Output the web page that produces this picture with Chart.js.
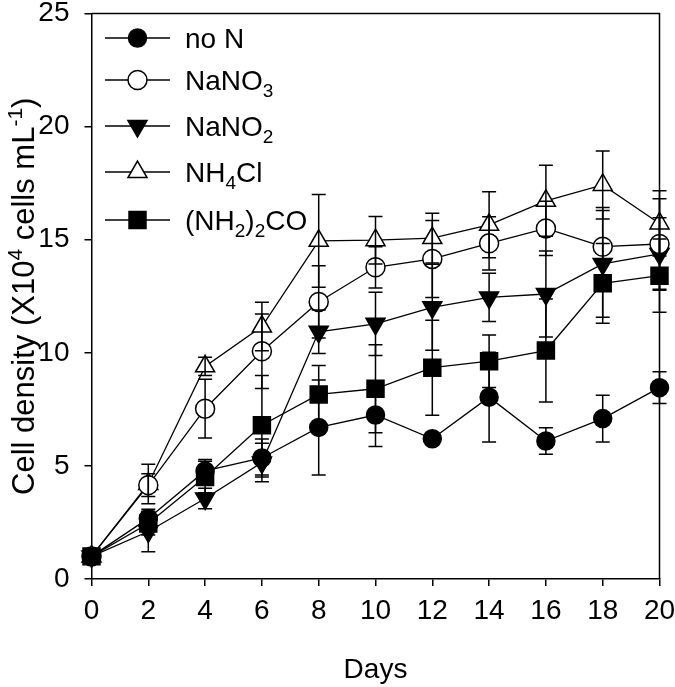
<!DOCTYPE html>
<html><head><meta charset="utf-8">
<script src="https://cdn.jsdelivr.net/npm/chart.js@4/dist/chart.umd.min.js"></script>
<style>html,body{margin:0;padding:0;background:#fff;}#wrap{width:675px;height:687px;}</style>
</head><body><div id="wrap"><canvas id="c" width="675" height="687"></canvas></div>
<script>
// ---- data ----
const days = [0, 2, 4, 6, 8, 10, 12, 14, 16, 18, 20];
const noN      = [1.0, 2.68, 4.78, 5.35, 6.70, 7.25, 6.20, 8.04, 6.10, 7.09, 8.46];
const noNErr   = [0.15, 0.40, 0.50, 0.84, 2.10, 1.39, 0.20, 1.98, 0.59, 1.03, 0.70];
const nano3    = [1.0, 4.15, 7.53, 10.07, 12.25, 13.78, 14.15, 14.84, 15.50, 14.69, 14.81];
const nano3Err = [0.15, 0.50, 1.30, 1.65, 1.60, 0.91, 1.70, 1.18, 1.20, 1.73, 2.00];
const nano2    = [1.0, 2.10, 3.56, 5.15, 10.93, 11.28, 12.01, 12.45, 12.60, 13.93, 14.37];
const nano2Err = [0.15, 0.89, 0.45, 0.85, 0.96, 1.40, 1.90, 1.07, 1.90, 2.36, 1.60];
const nh4cl    = [1.0, 4.20, 9.40, 11.16, 14.95, 14.98, 15.07, 15.66, 16.72, 17.42, 15.72];
const nh4clErr = [0.15, 0.87, 0.40, 1.07, 2.05, 1.05, 1.10, 1.46, 1.57, 1.50, 1.44];
const urea     = [1.0, 2.45, 4.51, 6.80, 8.16, 8.41, 9.34, 9.63, 10.10, 13.07, 13.41];
const ureaErr  = [0.15, 0.50, 0.70, 2.20, 1.28, 1.95, 2.10, 1.16, 2.28, 1.76, 1.62];
const seriesLabels = ['no N', 'NaNO_3', 'NaNO_2', 'NH_4Cl', '(NH_2)_2CO'];
const xTicks = [0, 2, 4, 6, 8, 10, 12, 14, 16, 18, 20];
const yTicks = [0, 5, 10, 15, 20, 25];
const xTitle = 'Days';
const yTitle = 'Cell density (X10^4 cells mL^{-1})';

// ---- styles ----
const FONT = '"Liberation Sans", Arial, sans-serif';
const FS = 28;
const styles = [
  {pointStyle:'circle', radius:9, bg:'#000', rot:0},
  {pointStyle:'circle', radius:9.5, bg:'#fff', rot:0},
  {pointStyle:'triangle', radius:11, bg:'#000', rot:180},
  {pointStyle:'triangle', radius:11, bg:'#fff', rot:0},
  {pointStyle:'rect', radius:12, bg:'#000', rot:0}
];
const values = [noN, nano3, nano2, nh4cl, urea];
const errors = [noNErr, nano3Err, nano2Err, nh4clErr, ureaErr];

const datasets = values.map((v, i) => ({
  label: seriesLabels[i],
  data: days.map((d, j) => ({x: d, y: v[j]})),
  borderColor: '#000', borderWidth: 1.3,
  pointStyle: styles[i].pointStyle, pointRadius: styles[i].radius,
  pointRotation: styles[i].rot,
  pointBackgroundColor: styles[i].bg, pointBorderColor: '#000', pointBorderWidth: 1.5,
  fill: false, tension: 0, clip: false
}));

// rich text parser: _x or _{..} subscript, ^x or ^{..} superscript
function parseRich(s) {
  const segs = []; let i = 0, buf = '';
  while (i < s.length) {
    const c = s[i];
    if (c === '_' || c === '^') {
      if (buf) { segs.push({t: buf, m: 0}); buf = ''; }
      let t;
      if (s[i+1] === '{') { const e = s.indexOf('}', i); t = s.slice(i+2, e); i = e + 1; }
      else { t = s[i+1]; i += 2; }
      segs.push({t, m: c === '_' ? 1 : -1});
    } else { buf += c; i++; }
  }
  if (buf) segs.push({t: buf, m: 0});
  return segs;
}
function richWidth(ctx, segs, fs) {
  let w = 0;
  for (const s of segs) { ctx.font = (s.m ? Math.round(fs*0.68) : fs) + 'px ' + FONT; w += ctx.measureText(s.t).width; }
  return w;
}
function drawRich(ctx, str, x, y, fs, align) {
  const segs = parseRich(str);
  let cx = x;
  if (align === 'center') cx = x - richWidth(ctx, segs, fs) / 2;
  ctx.textBaseline = 'alphabetic'; ctx.textAlign = 'left'; ctx.fillStyle = '#000';
  for (const s of segs) {
    const f = s.m ? Math.round(fs*0.68) : fs;
    ctx.font = f + 'px ' + FONT;
    const dy = s.m === 1 ? fs*0.25 : (s.m === -1 ? -fs*0.38 : 0);
    ctx.fillText(s.t, cx, y + dy);
    cx += ctx.measureText(s.t).width;
  }
}

const extras = {
  id: 'extras',
  afterDatasetsDraw(chart) {
    const ctx = chart.ctx, xs = chart.scales.x, ys = chart.scales.y;
    ctx.save();
    ctx.strokeStyle = '#000'; ctx.lineWidth = 1.5;
    values.forEach((v, i) => {
      v.forEach((val, j) => {
        const x = xs.getPixelForValue(days[j]);
        const y1 = ys.getPixelForValue(val + errors[i][j]);
        const y2 = ys.getPixelForValue(val - errors[i][j]);
        ctx.beginPath();
        ctx.moveTo(x, y1); ctx.lineTo(x, y2);
        ctx.moveTo(x - 7, y1); ctx.lineTo(x + 7, y1);
        ctx.moveTo(x - 7, y2); ctx.lineTo(x + 7, y2);
        ctx.stroke();
      });
    });
    ctx.restore();
  },
  afterDraw(chart) {
    const ctx = chart.ctx, a = chart.chartArea;
    ctx.save();
    ctx.strokeStyle = '#000'; ctx.lineWidth = 1.5;
    ctx.beginPath();
    ctx.moveTo(a.left, a.top); ctx.lineTo(a.right, a.top); ctx.lineTo(a.right, a.bottom);
    ctx.stroke();
    // legend
    const rows = [38, 80, 126, 172, 220];
    seriesLabels.forEach((lab, i) => {
      const y = rows[i];
      ctx.strokeStyle = '#000'; ctx.lineWidth = 1.3;
      ctx.beginPath(); ctx.moveTo(105, y); ctx.lineTo(170, y); ctx.stroke();
      ctx.fillStyle = styles[i].bg; ctx.lineWidth = 1.5;
      Chart.helpers.drawPoint(ctx, {pointStyle: styles[i].pointStyle, radius: styles[i].radius, rotation: styles[i].rot, borderWidth: 1.5}, 137.5, y);
      drawRich(ctx, lab, 185, y + 10, FS, 'left');
    });
    // axis titles
    drawRich(ctx, xTitle, (a.left + a.right) / 2, 678, FS, 'center');
    ctx.translate(34, (a.top + a.bottom) / 2);
    ctx.rotate(-Math.PI / 2);
    drawRich(ctx, yTitle, 0, 0, 31, 'center');
    ctx.restore();
  }
};

new Chart(document.getElementById('c'), {
  type: 'line',
  data: {datasets},
  options: {
    responsive: false, animation: false, devicePixelRatio: 1,
    layout: {padding: {left: 0, right: 15.5, top: 11.7, bottom: 0}},
    plugins: {legend: {display: false}, tooltip: {enabled: false}},
    scales: {
      x: {
        type: 'linear', min: 0, max: 20,
        afterBuildTicks(s) { s.ticks = xTicks.map(v => ({value: v})); },
        ticks: {font: {family: FONT, size: FS}, color: '#000', padding: 8, maxRotation: 0},
        grid: {drawOnChartArea: false, drawTicks: true, tickLength: 7, color: '#000', lineWidth: 1.5},
        border: {color: '#000', width: 1.5},
        afterFit(s) { s.height = 108; s.paddingLeft = 0; s.paddingRight = 0; }
      },
      y: {
        type: 'linear', min: 0, max: 25,
        afterBuildTicks(s) { s.ticks = yTicks.map(v => ({value: v})); },
        ticks: {font: {family: FONT, size: FS}, color: '#000', padding: 15},
        grid: {drawOnChartArea: false, drawTicks: true, tickLength: 7, color: '#000', lineWidth: 1.5},
        border: {color: '#000', width: 1.5},
        afterFit(s) { s.width = 91.5; s.paddingTop = 0; s.paddingBottom = 0; }
      }
    }
  },
  plugins: [extras]
});
</script></body></html>
